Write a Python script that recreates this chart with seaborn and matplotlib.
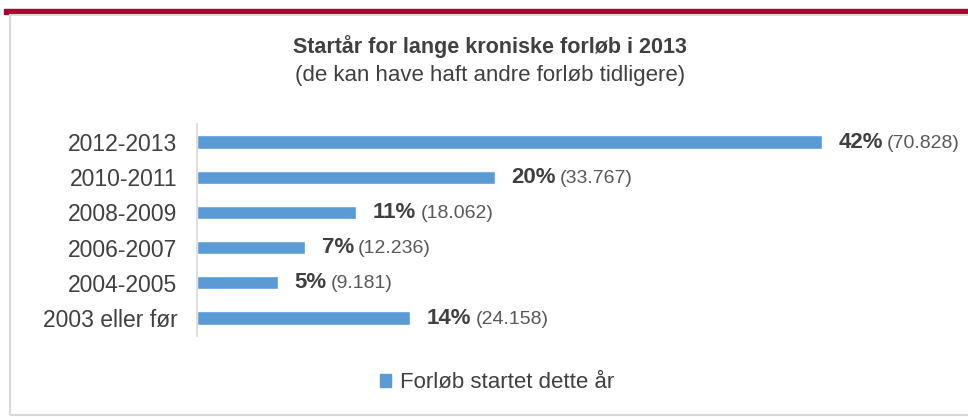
import matplotlib
matplotlib.use("Agg")
import pandas as pd
import seaborn as sns
import matplotlib.pyplot as plt
from matplotlib.patches import Rectangle

# data
periods = ["2012-2013", "2010-2011", "2008-2009", "2006-2007", "2004-2005", "2003 eller før"]
counts = [70828, 33767, 18062, 12236, 9181, 24158]
shares = ["42%", "20%", "11%", "7%", "5%", "14%"]
count_labels = ["(70.828)", "(33.767)", "(18.062)", "(12.236)", "(9.181)", "(24.158)"]
series_name = "Forløb startet dette år"

BLUE = "#5b9bd5"
DARK = "#404040"
GREY = "#595959"

sns.set_theme(style="white")
plt.rcParams["font.family"] = ["Liberation Sans", "DejaVu Sans"]

df = pd.DataFrame({"periode": periods, "antal": counts, "serie": series_name})

W, H = 968, 417
fig = plt.figure(figsize=(W / 100, H / 100), dpi=100)

# frame: red band on top and thin grey border
fig.patches.append(Rectangle((4 / W, 1 - 14 / H), 1, 5 / H, transform=fig.transFigure,
                             color="#a6062f", zorder=0))
fig.patches.append(Rectangle((9.5 / W, 1 - 415 / H), 1, (415 - 15) / H, transform=fig.transFigure,
                             facecolor="none", edgecolor="#d9d9d9", lw=1.5, zorder=0))

ax = fig.add_axes([197 / W, 1 - 335.6 / H, (822 - 197) / W, 211.2 / H])
sns.barplot(data=df, y="periode", x="antal", hue="serie", orient="h",
            palette=[BLUE], saturation=1, width=0.37, ax=ax, legend=True)
ax.set_xlim(0, max(counts))
ax.set_ylim(5.5, -0.5)
ax.set_xlabel("")
ax.set_ylabel("")
ax.set_xticks([])
for s in ["top", "right", "bottom"]:
    ax.spines[s].set_visible(False)
ax.spines["left"].set_color("#d9d9d9")
ax.spines["left"].set_linewidth(1.2)
ax.tick_params(axis="y", length=0, pad=14, labelsize=16.5, labelcolor=DARK)

# value labels: bold share + grey count
fig.canvas.draw()
renderer = fig.canvas.get_renderer()
for i, (c, s, n) in enumerate(zip(counts, shares, count_labels)):
    t = ax.annotate(s, (c, i), xytext=(12, 0), textcoords="offset points",
                    va="center", ha="left", fontsize=16, fontweight="bold",
                    color=DARK, annotation_clip=False)
    bb = t.get_window_extent(renderer)
    fig.text((bb.x1 + 4) / W, (bb.y0 + bb.y1) / 2 / H - 1 / H, n,
             va="center", ha="left", fontsize=14, color=GREY)

# legend at the bottom
ax.get_legend().remove()
handles = [Rectangle((0, 0), 1, 1, color=BLUE)]
fig.legend(handles, [series_name], loc="center", bbox_to_anchor=(497 / W, 1 - 383 / H),
           frameon=False, fontsize=16, handlelength=0.5, handleheight=0.5,
           handletextpad=0.4, labelcolor=DARK)

fig.text(490 / W, 1 - 47 / H, "Startår for lange kroniske forløb i 2013",
         ha="center", va="center", fontsize=15.5, fontweight="bold", color=DARK)
fig.text(490 / W, 1 - 75 / H, "(de kan have haft andre forløb tidligere)",
         ha="center", va="center", fontsize=16, color=DARK)

fig.savefig("out.png", dpi=100, facecolor="white")
